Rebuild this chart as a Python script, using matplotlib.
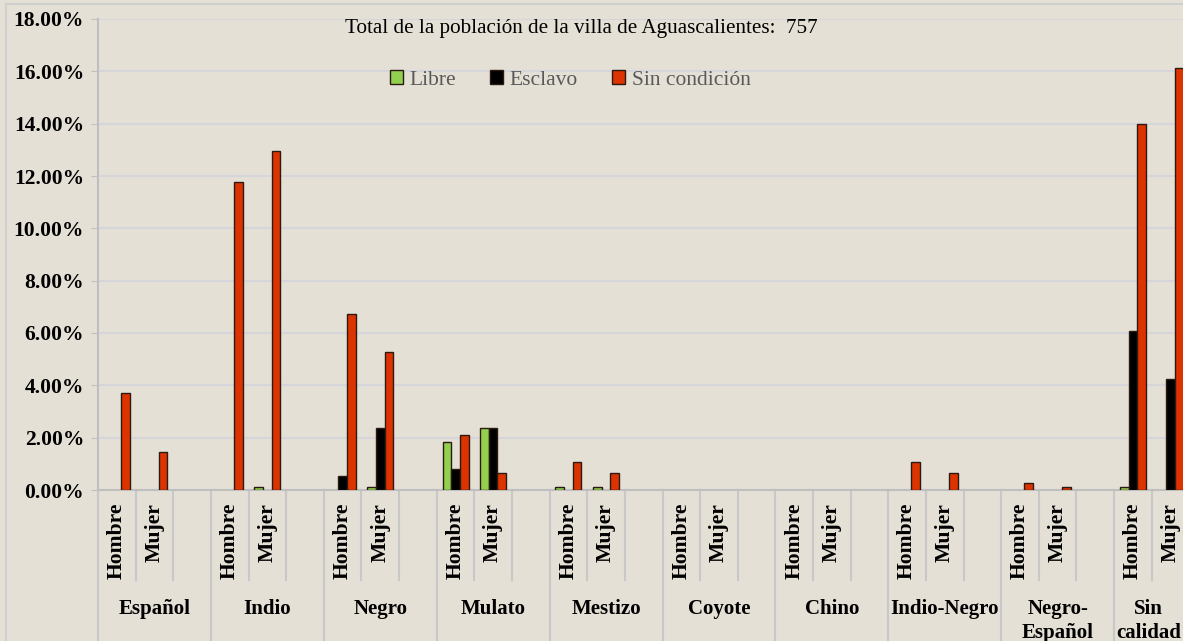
import numpy as np
import matplotlib
matplotlib.use("Agg")
import matplotlib.pyplot as plt
from matplotlib.patches import Rectangle
from matplotlib.transforms import blended_transform_factory

plt.rcParams["font.family"] = ["Liberation Serif", "DejaVu Serif"]

grupos = ["Español", "Indio", "Negro", "Mulato", "Mestizo", "Coyote", "Chino",
          "Indio-Negro", "Negro-\nEspañol", "Sin\ncalidad"]
sexos = ["Hombre", "Mujer"]
series = ["Libre", "Esclavo", "Sin condición"]
colores = ["#92D050", "#000000", "#DD3300"]

# porcentajes por grupo: (Hombre, Mujer)
libre = [0, 0, 0, 0.13, 0, 0.13, 1.85, 2.38, 0.13, 0.13,
         0, 0, 0, 0, 0, 0, 0, 0, 0.13, 0]
esclavo = [0, 0, 0, 0, 0.53, 2.38, 0.79, 2.38, 0, 0,
           0, 0, 0, 0, 0, 0, 0, 0, 6.08, 4.23]
sin_condicion = [3.70, 1.45, 11.76, 12.95, 6.74, 5.28, 2.11, 0.66, 1.06, 0.66,
                 0, 0, 0, 0, 1.06, 0.66, 0.26, 0.13, 14.00, 16.12]
valores = [libre, esclavo, sin_condicion]

bg = "#E5E0D6"
fig = plt.figure(figsize=(11.83, 6.41), dpi=100, facecolor=bg)
ax = fig.add_axes([98 / 1183, 151 / 641, 1 - 98 / 1183, 471 / 641])
ax.set_facecolor("none")

# posiciones: cada grupo ocupa 3 huecos (Hombre, Mujer, vacío)
pos = np.array([3 * g + s for g in range(len(grupos)) for s in range(2)])
ancho = 0.23
for i, (nombre, vals, c) in enumerate(zip(series, valores, colores)):
    vals = np.array(vals)
    m = vals > 0
    ax.bar(pos[m] + (i - 1) * ancho, vals[m], ancho, color=c,
           edgecolor="#2a1a10", linewidth=1.0, label=nombre, zorder=3)

n_slots = 3 * len(grupos)
xmax = n_slots - 0.5 - 1.17
ax.set_xlim(-0.5, xmax)
ax.set_ylim(0, 18)
ax.set_yticks(np.arange(0, 18.1, 2))
ax.set_yticklabels([f"{v:.2f}%" for v in np.arange(0, 18.1, 2)],
                   fontsize=15.5, fontweight="bold")
ax.yaxis.grid(True, color="#D6D6DA", linewidth=1.5, zorder=0)
ax.tick_params(axis="y", length=5, color="#BFBFBF", pad=5)
ax.set_xticks([])
for s in ["top", "right"]:
    ax.spines[s].set_visible(False)
for s in ["left", "bottom"]:
    ax.spines[s].set_color("#BFBFBF")
    ax.spines[s].set_linewidth(1.5)

trans = blended_transform_factory(ax.transData, ax.transAxes)
# separadores del eje x
for k in range(n_slots):
    xb = k - 0.5
    if xb > xmax:
        continue
    y0 = -0.32 if k % 3 == 0 else -0.191
    ax.plot([xb, xb], [0, y0], color="#C8C8C8", lw=1.5, transform=trans,
            clip_on=False)
# etiquetas Hombre / Mujer
for p in pos:
    ax.text(p, -0.027, sexos[p % 3], rotation=90, ha="center", va="top",
            fontsize=15.6, fontweight="bold", transform=trans)
# etiquetas de grupo
for g, nombre in enumerate(grupos):
    xc = 3 * g + 1
    if xc + 1.5 > xmax:
        xc = (3 * g - 0.5 + xmax) / 2
    ax.text(xc, -0.232, nombre, ha="center", va="top", fontsize=15,
            fontweight="bold", linespacing=1.25, transform=trans)

fig.text(581 / 1183, 1 - 29 / 641, "Total de la población de la villa de Aguascalientes:  757",
         ha="center", va="center", fontsize=15.2)
leg = ax.legend(loc="center", ncol=3, frameon=False, fontsize=15.5,
                handlelength=0.6, handleheight=0.6, handletextpad=0.3,
                columnspacing=1.6, borderpad=0)
leg.set_bbox_to_anchor((570 / 1183, 1 - 80 / 641), transform=fig.transFigure)
for t in leg.get_texts():
    t.set_color("#595959")

fig.add_artist(Rectangle((6 / 1183, -0.1), 1.2, 1.1 - 4 / 641, fill=False,
                         edgecolor="#CFCFCF", linewidth=1.5,
                         transform=fig.transFigure))

fig.savefig("out.png", dpi=100, facecolor=bg)
